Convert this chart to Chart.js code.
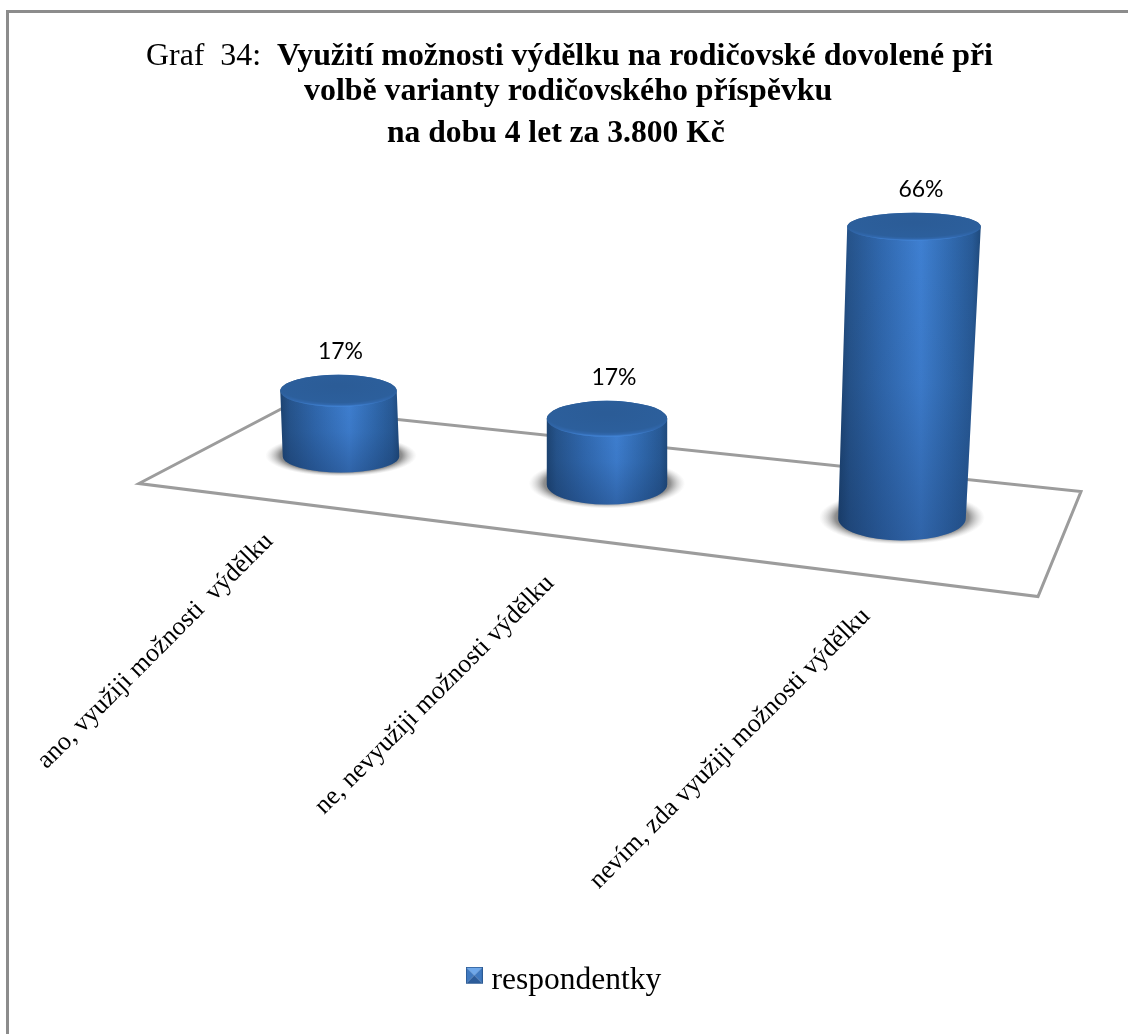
<!DOCTYPE html>
<html lang="cs">
<head>
<meta charset="UTF-8">
<title>Graf 34</title>
<script src="https://cdn.jsdelivr.net/npm/chart.js"></script>
<style>
    html, body { margin: 0; padding: 0; background: #fff; overflow: hidden; }
    #wrap { position: relative; width: 1128px; height: 1034px; overflow: hidden; }
    #frame { position: absolute; left: 6px; top: 10px; width: 1200px; height: 1200px; border: 3px solid #8c8c8c; }
    .titleLine { position: absolute; white-space: pre; font: bold 31.9px 'Liberation Serif', serif; line-height: 36px; color: #000; }
    .titleLine span { font-weight: normal; }
    canvas { position: absolute; left: 0; top: 0; }
</style>
</head>
<body>
<div id="wrap">
    <div id="frame"></div>
    <canvas id="chart" width="1128" height="1034"></canvas>
    <div class="titleLine" style="left:146px;top:37px"><span>Graf  34:  </span>Využití možnosti výdělku na rodičovské dovolené při</div>
    <div class="titleLine" style="left:304px;top:72px">volbě varianty rodičovského příspěvku</div>
    <div class="titleLine" style="left:387px;top:114px;font-size:31.6px">na dobu 4 let za 3.800 Kč</div>
</div>

<script>
const categories = ['ano, využiji možnosti  výdělku', 'ne, nevyužiji možnosti výdělku', 'nevím, zda využiji možnosti výdělku'];
const seriesName = 'respondentky';
const values = [17, 17, 66];

const Y_MAX = 100;

// The original is a 3D chart, so each category sits a bit differently on the floor.
// These only shift/scale what the bar elements report, the heights still come from the y scale.
const perspective = [
    { dx: 0, dy: 0, lean: -2.5, rise: 1, wTop: 1, wBottom: 1, ryTop: 16, ryBottom: 16, labelDx: -72, labelDy: 81, valueDx: 2 },
    { dx: -16, dy: 28, lean: 0, rise: 1, wTop: 1.034, wBottom: 1.034, ryTop: 18, ryBottom: 20, labelDx: -57, labelDy: 95, valueDx: 7 },
    { dx: -3, dy: 62, lean: 12, rise: 1.144, wTop: 1.147, wBottom: 1.095, ryTop: 14, ryBottom: 22, labelDx: -36, labelDy: 94, valueDx: 7 }
];

// Floor corners, as offsets from the plot area edges
function floorCorners(area) {
    return [
        [area.left - 61, area.bottom + 27],
        [area.left + 84, area.bottom - 49],
        [area.right + 35, area.bottom + 35],
        [area.right - 8, area.bottom + 140]
    ];
}

function drawFloor(ctx, area) {
    const c = floorCorners(area);
    ctx.save();
    ctx.beginPath();
    ctx.moveTo(c[0][0], c[0][1]);
    for (let i = 1; i < c.length; i++) ctx.lineTo(c[i][0], c[i][1]);
    ctx.closePath();
    ctx.lineWidth = 3;
    ctx.strokeStyle = '#9c9c9c';
    ctx.lineJoin = 'miter';
    ctx.stroke();
    ctx.restore();
}

function drawShadow(ctx, g) {
    const rx = g.bw * 1.3;
    const ry = g.bry + 5;
    ctx.save();
    ctx.translate(g.bx, g.by - 1);
    ctx.scale(rx, ry);
    const grad = ctx.createRadialGradient(0, 0, 0.65, 0, 0, 1);
    grad.addColorStop(0, 'rgba(95,95,95,1)');
    grad.addColorStop(0.45, 'rgba(125,125,125,0.85)');
    grad.addColorStop(1, 'rgba(200,200,200,0)');
    ctx.fillStyle = grad;
    ctx.beginPath();
    ctx.arc(0, 0, 1, 0, Math.PI * 2);
    ctx.fill();
    ctx.restore();
}

function drawCylinder(ctx, g) {
    const left = Math.min(g.tx - g.tw, g.bx - g.bw);
    const right = Math.max(g.tx + g.tw, g.bx + g.bw);

    // side of the cylinder
    ctx.save();
    ctx.beginPath();
    ctx.moveTo(g.tx - g.tw, g.ty);
    ctx.lineTo(g.bx - g.bw, g.by);
    ctx.ellipse(g.bx, g.by, g.bw, g.bry, 0, Math.PI, 0, true);
    ctx.lineTo(g.tx + g.tw, g.ty);
    ctx.ellipse(g.tx, g.ty, g.tw, g.try_, 0, 0, Math.PI, true);
    ctx.closePath();
    const side = ctx.createLinearGradient(left, 0, right, 0);
    side.addColorStop(0, '#1d4472');
    side.addColorStop(0.08, '#26548c');
    side.addColorStop(0.3, '#3068ae');
    side.addColorStop(0.58, '#3f80d2');
    side.addColorStop(0.8, '#3069ae');
    side.addColorStop(0.94, '#285a96');
    side.addColorStop(1, '#1f4a7c');
    ctx.fillStyle = side;
    ctx.fill();
    ctx.clip();
    const shade = ctx.createLinearGradient(0, g.ty, 0, g.by + g.bry);
    shade.addColorStop(0, 'rgba(15,40,80,0)');
    shade.addColorStop(0.5, 'rgba(15,40,80,0.08)');
    shade.addColorStop(1, 'rgba(15,40,80,0.32)');
    ctx.fillStyle = shade;
    ctx.fillRect(left - 2, g.ty - g.try_, right - left + 4, g.by + g.bry - g.ty + g.try_ + 2);
    ctx.restore();

    // top face, darker with a light rim towards the viewer
    ctx.save();
    ctx.translate(g.tx, g.ty);
    ctx.scale(g.tw, g.try_);
    const top = ctx.createRadialGradient(0, -0.3, 0.1, 0, -0.3, 1.3);
    top.addColorStop(0, '#2b5c97');
    top.addColorStop(0.78, '#2c5f9c');
    top.addColorStop(0.9, '#3168ad');
    top.addColorStop(1, '#4488dc');
    ctx.fillStyle = top;
    ctx.beginPath();
    ctx.arc(0, 0, 1, 0, Math.PI * 2);
    ctx.fill();
    ctx.restore();
}

// Where a bar ends up on screen once the perspective is applied
function cylinderGeometry(bar, p) {
    const bx = bar.x + p.dx;
    const by = bar.base + p.dy;
    return {
        bx: bx,
        by: by,
        bw: bar.width / 2 * p.wBottom,
        bry: p.ryBottom,
        tx: bx + p.lean,
        ty: by - (bar.base - bar.y) * p.rise,
        tw: bar.width / 2 * p.wTop,
        try_: p.ryTop
    };
}

const cylinderPlugin = {
    id: 'cylinders',
    // the flat bars are only used for their geometry
    beforeDatasetDraw() { return false; },
    afterDatasetsDraw(chart) {
        const ctx = chart.ctx;
        const bars = chart.getDatasetMeta(0).data;
        drawFloor(ctx, chart.chartArea);
        const geoms = bars.map((bar, i) => cylinderGeometry(bar, perspective[i]));
        geoms.forEach(g => drawShadow(ctx, g));
        geoms.forEach(g => drawCylinder(ctx, g));

        // value labels
        ctx.save();
        ctx.fillStyle = '#000';
        ctx.font = "23px Lato, sans-serif";
        ctx.textAlign = 'center';
        ctx.textBaseline = 'middle';
        geoms.forEach((g, i) => {
            ctx.fillText(values[i] + '%', g.tx + perspective[i].valueDx, g.ty - g.try_ - 23);
        });
        ctx.restore();

        // slanted category labels, they follow the floor so ticks can't place them
        ctx.save();
        ctx.fillStyle = '#000';
        ctx.font = "26px 'Liberation Serif', serif";
        ctx.textAlign = 'right';
        ctx.textBaseline = 'middle';
        geoms.forEach((g, i) => {
            ctx.save();
            ctx.translate(g.bx + perspective[i].labelDx, g.by + perspective[i].labelDy);
            ctx.rotate(-Math.PI / 4);
            ctx.fillText(categories[i], 0, 0);
            ctx.restore();
        });
        ctx.restore();
    }
};

// Small pyramid-shaded square for the legend, extra empty rows underneath lift it next to the text
function legendIcon() {
    const s = 17;
    const c = document.createElement('canvas');
    c.width = s;
    c.height = s + 10;
    const x = c.getContext('2d');
    const tri = (ax, ay, bx, by, col) => {
        x.fillStyle = col;
        x.beginPath();
        x.moveTo(ax, ay);
        x.lineTo(bx, by);
        x.lineTo(s / 2, s / 2);
        x.closePath();
        x.fill();
    };
    tri(0, 0, s, 0, '#6fa8ea');
    tri(0, 0, 0, s, '#3f79c0');
    tri(s, 0, s, s, '#3f79c0');
    tri(0, s, s, s, '#2c5c9a');
    x.strokeStyle = '#2b5a94';
    x.lineWidth = 1;
    x.strokeRect(0.5, 0.5, s - 1, s - 1);
    return c;
}

new Chart(document.getElementById('chart'), {
    type: 'bar',
    data: {
        labels: categories,
        datasets: [{
            label: seriesName,
            data: values,
            backgroundColor: '#2f68ae',
            categoryPercentage: 1,
            barPercentage: 0.413
        }]
    },
    options: {
        responsive: false,
        animation: false,
        layout: { padding: { top: 70, left: 88, right: 82, bottom: 28 } },
        scales: {
            x: {
                grid: { display: false },
                border: { display: false },
                ticks: { display: false },
                afterFit(scale) { scale.height = 498; }
            },
            y: {
                min: 0,
                max: Y_MAX,
                grid: { display: false },
                border: { display: false },
                ticks: { display: false },
                afterFit(scale) { scale.width = 112; }
            }
        },
        plugins: {
            tooltip: { enabled: false },
            legend: {
                position: 'bottom',
                labels: {
                    color: '#000',
                    font: { family: "'Liberation Serif', serif", size: 31.5 },
                    usePointStyle: true,
                    pointStyle: legendIcon(),
                    pointStyleWidth: 3,
                    padding: 10
                }
            }
        }
    },
    plugins: [cylinderPlugin]
});
</script>
</body>
</html>
